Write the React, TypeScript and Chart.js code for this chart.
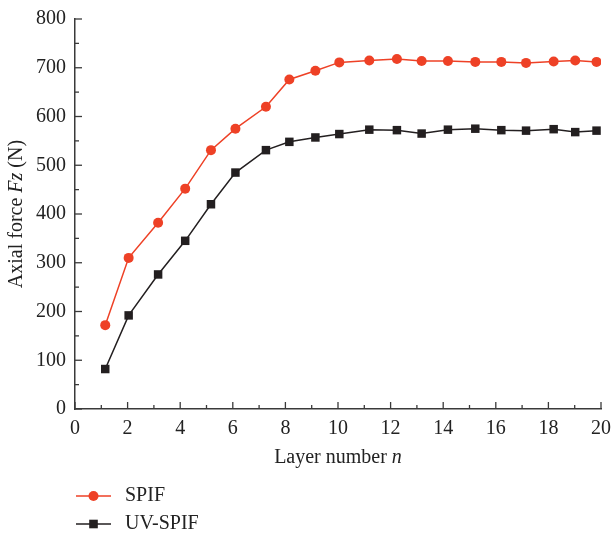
import React, { useEffect, useRef } from "react";
import { Chart, registerables } from "chart.js";

Chart.register(...registerables);

const layerSPIF = [1.15, 2.04, 3.16, 4.19, 5.17, 6.1, 7.26, 8.15, 9.14, 10.05, 11.19, 12.24, 13.18, 14.18, 15.22, 16.21, 17.15, 18.2, 19.02, 19.83];
const forceSPIF = [172, 310, 382, 452, 531, 575, 620, 676, 694, 711, 715, 718, 714, 714, 712, 712, 710, 713, 715, 712];
const layerUV = [1.15, 2.04, 3.16, 4.19, 5.17, 6.1, 7.26, 8.15, 9.14, 10.05, 11.19, 12.24, 13.18, 14.18, 15.22, 16.21, 17.15, 18.2, 19.02, 19.83];
const forceUV = [82, 192, 276, 345, 420, 485, 531, 548, 557, 564, 573, 572, 565, 573, 575, 572, 571, 574, 568, 571];

const seriesNames = ["SPIF", "UV-SPIF"];
const RED = "#ee4126";
const BLACK = "#231f20";
const AXIS = "#3a3a3a";
const FONT = "'Liberation Serif', 'Times New Roman', serif";

const decorPlugin = {
  id: "decor",
  afterDraw(chart: any) {
    const ctx = chart.ctx;
    const xs = chart.scales.x;
    const ys = chart.scales.y;
    const area = chart.chartArea;
    ctx.save();
    ctx.strokeStyle = AXIS;
    ctx.lineWidth = 1.3;
    for (let v = 0; v <= 20; v += 1) {
      const px = xs.getPixelForValue(v);
      const len = v % 2 === 0 ? 7 : 4;
      ctx.beginPath();
      ctx.moveTo(px, area.bottom);
      ctx.lineTo(px, area.bottom - len);
      ctx.stroke();
    }
    for (let v = 0; v <= 800; v += 50) {
      const py = ys.getPixelForValue(v);
      const len = v % 100 === 0 ? 7 : 4;
      ctx.beginPath();
      ctx.moveTo(area.left, py);
      ctx.lineTo(area.left + len, py);
      ctx.stroke();
    }
    ctx.fillStyle = "#222";
    ctx.textBaseline = "middle";
    const xt1 = "Layer number ";
    const xt2 = "n";
    ctx.font = `20px ${FONT}`;
    const w1 = ctx.measureText(xt1).width;
    ctx.font = `italic 20px ${FONT}`;
    const w2 = ctx.measureText(xt2).width;
    const cx = (area.left + area.right) / 2;
    const sx = cx - (w1 + w2) / 2;
    ctx.textAlign = "left";
    ctx.font = `20px ${FONT}`;
    ctx.fillText(xt1, sx, 458);
    ctx.font = `italic 20px ${FONT}`;
    ctx.fillText(xt2, sx + w1, 458);
    const parts: [string, boolean][] = [["Axial force ", false], ["Fz", true], [" (N)", false]];
    let total = 0;
    const widths: number[] = [];
    for (const [t, it] of parts) {
      ctx.font = `${it ? "italic " : ""}20px ${FONT}`;
      const w = ctx.measureText(t).width;
      widths.push(w);
      total += w;
    }
    ctx.save();
    ctx.translate(17, (area.top + area.bottom) / 2);
    ctx.rotate(-Math.PI / 2);
    let ox = -total / 2;
    parts.forEach(([t, it], i) => {
      ctx.font = `${it ? "italic " : ""}20px ${FONT}`;
      ctx.fillText(t, ox, 0);
      ox += widths[i];
    });
    ctx.restore();
    const rows = [
      { name: seriesNames[0], color: RED, y: 496, shape: "circle" },
      { name: seriesNames[1], color: BLACK, y: 524, shape: "rect" },
    ];
    for (const r of rows) {
      ctx.strokeStyle = r.color;
      ctx.lineWidth = 1.5;
      ctx.beginPath();
      ctx.moveTo(76, r.y);
      ctx.lineTo(111, r.y);
      ctx.stroke();
      ctx.fillStyle = r.color;
      if (r.shape === "circle") {
        ctx.beginPath();
        ctx.arc(93.5, r.y, 5, 0, Math.PI * 2);
        ctx.fill();
      } else {
        ctx.fillRect(93.5 - 4.3, r.y - 4.3, 8.6, 8.6);
      }
      ctx.fillStyle = "#222";
      ctx.font = `20px ${FONT}`;
      ctx.fillText(r.name, 125, r.y);
    }
    ctx.restore();
  },
};

export default function App() {
  const ref = useRef<HTMLCanvasElement | null>(null);
  useEffect(() => {
    if (!ref.current) return;
    const chart = new Chart(ref.current, {
      type: "line",
      data: {
        datasets: [
          {
            label: seriesNames[0],
            data: layerSPIF.map((x, i) => ({ x, y: forceSPIF[i] })),
            borderColor: RED,
            backgroundColor: RED,
            borderWidth: 1.5,
            pointStyle: "circle",
            pointRadius: 5,
            pointBorderWidth: 0,
            tension: 0,
          },
          {
            label: seriesNames[1],
            data: layerUV.map((x, i) => ({ x, y: forceUV[i] })),
            borderColor: BLACK,
            backgroundColor: BLACK,
            borderWidth: 1.5,
            pointStyle: "rect",
            pointRadius: 6,
            pointBorderWidth: 0,
            tension: 0,
          },
        ],
      },
      options: {
        animation: false,
        responsive: false,
        maintainAspectRatio: false,
        layout: { padding: { left: 0, right: 10, top: 19, bottom: 0 } },
        plugins: { legend: { display: false }, tooltip: { enabled: false } },
        scales: {
          x: {
            type: "linear",
            min: 0,
            max: 20,
            grid: { display: false, drawTicks: false },
            border: { display: true, color: AXIS, width: 1.5 },
            ticks: { stepSize: 2, padding: 8, color: "#222", font: { family: FONT, size: 20 } },
            afterFit: (s: any) => { s.height = 124; s.paddingLeft = 0; s.paddingRight = 0; },
          },
          y: {
            type: "linear",
            min: 0,
            max: 800,
            grid: { display: false, drawTicks: false },
            border: { display: true, color: AXIS, width: 1.5 },
            ticks: { stepSize: 100, padding: 9, color: "#222", font: { family: FONT, size: 20 } },
            afterFit: (s: any) => { s.width = 75; s.paddingTop = 0; s.paddingBottom = 0; },
          },
        },
      },
      plugins: [decorPlugin],
    });
    return () => chart.destroy();
  }, []);
  return (
    <div style={{ position: "fixed", left: 0, top: 0, width: 611, height: 533, background: "#fff" }}>
      <canvas ref={ref} width={611} height={533} style={{ width: 611, height: 533, display: "block" }} />
    </div>
  );
}
